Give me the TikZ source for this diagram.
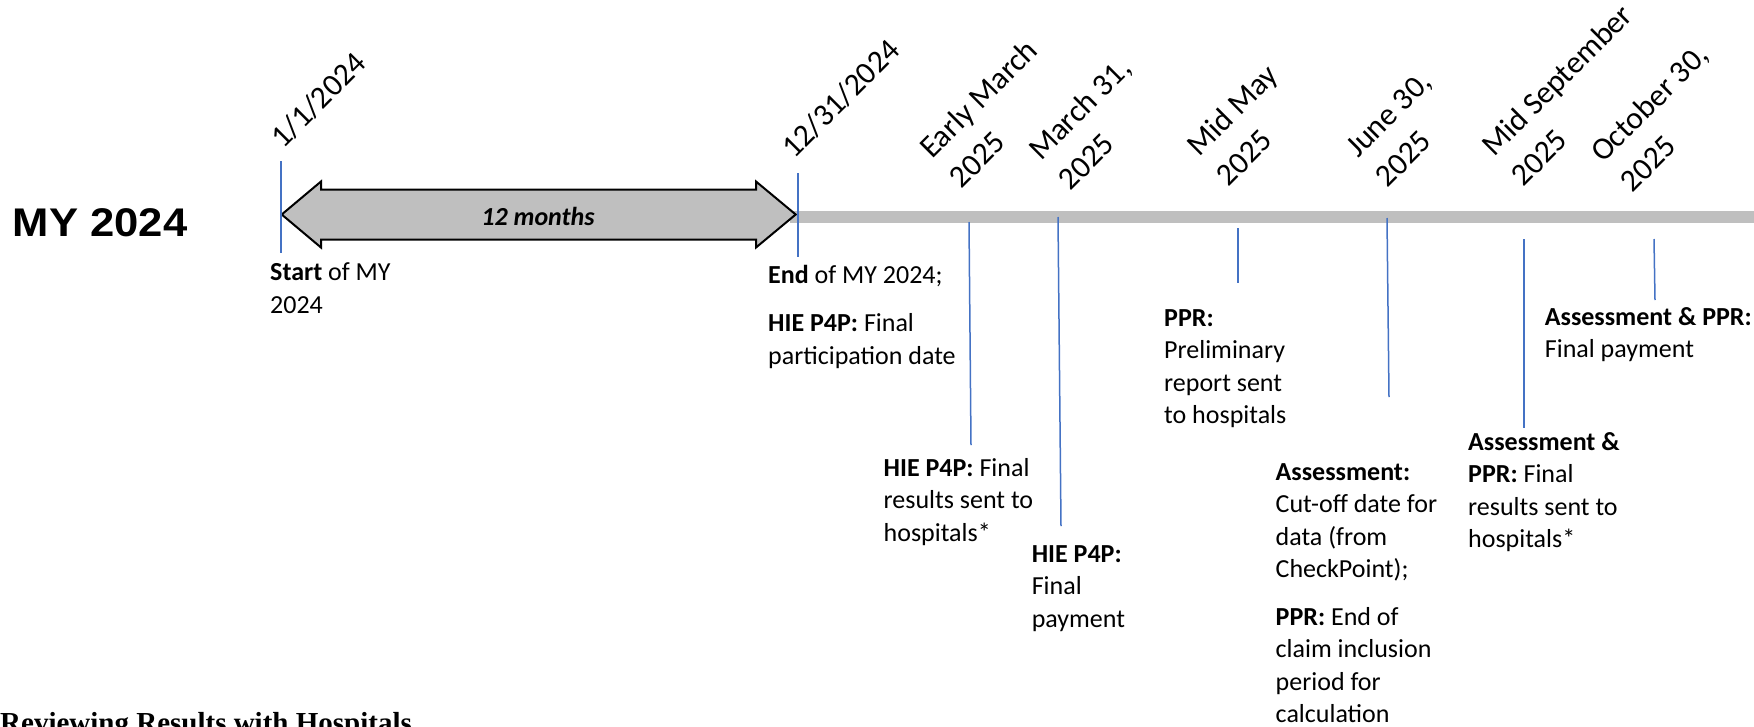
\documentclass[tikz,border=0pt]{standalone}
\usepackage{fontspec}
\usepackage{graphicx}
\setmainfont{Carlito}
\newfontfamily\headfont{Liberation Sans}
\newfontfamily\serifhead{Liberation Serif}
\definecolor{tickblue}{RGB}{68,114,196}
\definecolor{bargrey}{RGB}{191,191,191}
\begin{document}
\begin{tikzpicture}[x=1pt,y=-1pt,
  desc/.style={anchor=base west, inner sep=0pt, align=left, font=\fontsize{26}{32.5}\selectfont},
  datelbl/.style={anchor=base west, inner sep=0pt, align=left, rotate=45, font=\fontsize{31.5}{42}\selectfont},
  tick/.style={draw=tickblue, line width=1.5pt},
  spanarrow/.style={draw=black, line width=2pt, fill=bargrey, line join=miter}]
\useasboundingbox (0,0) rectangle (1754,726);

% timeline bar
\fill[bargrey] (790,210.7) rectangle (1760,222.7);

% 12 months double arrow
\draw[spanarrow] (281.7,214.5) -- (321,181.5) -- (321,189.5) -- (756,189.5) -- (756,181.5)
  -- (795.7,214.5) -- (756,247.5) -- (756,239.5) -- (321,239.5) -- (321,247.5) -- cycle;
\node[anchor=base, inner sep=0pt, font=\fontsize{26}{32.5}\selectfont\bfseries\itshape] (months) at (538,225.5) {12 months};

% title
\node[anchor=base west, inner sep=0pt, font=\headfont\fontsize{40}{48}\selectfont\bfseries] (title) at (12.6,236.7) {\scalebox{1.09}[1]{MY 2024}};

% date labels (anchor = baseline start of the last line)
\node[datelbl] (d1) at (283,150) {1/1/2024};
\node[datelbl] (d2) at (794,160) {12/31/2024};
\node[datelbl] (d3) at (961.7,189.7) {Early March\\2025};
\node[datelbl] (d4) at (1070.7,191.7) {March 31,\\2025};
\node[datelbl] (d5) at (1228.7,187.7) {Mid May\\2025};
\node[datelbl] (d6) at (1387.7,188.7) {June 30,\\2025};
\node[datelbl] (d7) at (1523.7,187.7) {Mid September\\2025};
\node[datelbl] (d8) at (1632.7,193.7) {October 30,\\2025};

% tick lines
\coordinate (t1a) at (281,161);   \coordinate (t1b) at (281,253);
\coordinate (t2a) at (798,173);   \coordinate (t2b) at (798,257);
\coordinate (t3a) at (969,222);   \coordinate (t3b) at (971,445);
\coordinate (t4a) at (1058,217);  \coordinate (t4b) at (1061,526);
\coordinate (t5a) at (1238,228);  \coordinate (t5b) at (1238,283);
\coordinate (t6a) at (1387,218);  \coordinate (t6b) at (1389,397);
\coordinate (t7a) at (1524,239);  \coordinate (t7b) at (1524,428);
\coordinate (t8a) at (1654,239);  \coordinate (t8b) at (1655,300);
\foreach \i in {1,...,8} {\draw[tick] (t\i a) -- (t\i b);}

% descriptions (anchor = baseline of the last line)
\node[desc] (e1) at (270,313.2) {\textbf{Start} of MY\\2024};
\node[desc] (e2) at (768,364) {\textbf{End} of MY 2024;\\[16pt]\textbf{HIE P4P:} Final\\participation date};
\node[desc] (e3) at (883.5,541) {\textbf{HIE P4P:} Final\\results sent to\\hospitals*};
\node[desc] (e4) at (1031.6,627) {\textbf{HIE P4P:}\\Final\\payment};
\node[desc] (e5) at (1164,423.5) {\textbf{PPR:}\\Preliminary\\report sent\\to hospitals};
\node[desc] (e6) at (1275.5,722.5) {\textbf{Assessment:}\\Cut-off date for\\data (from\\CheckPoint);\\[15pt]\textbf{PPR:} End of\\claim inclusion\\period for\\calculation};
\node[desc] (e7) at (1468,547.5) {\textbf{Assessment \&}\\\textbf{PPR:} Final\\results sent to\\hospitals*};
\node[desc] (e8) at (1544.7,357.5) {\textbf{Assessment \& PPR:}\\Final payment};

% bottom heading (cut by the frame)
\node[anchor=base west, inner sep=0pt, font=\serifhead\fontsize{29}{34}\selectfont\bfseries] (rev) at (0,732) {Reviewing Results with Hospitals};
\end{tikzpicture}
\end{document}
